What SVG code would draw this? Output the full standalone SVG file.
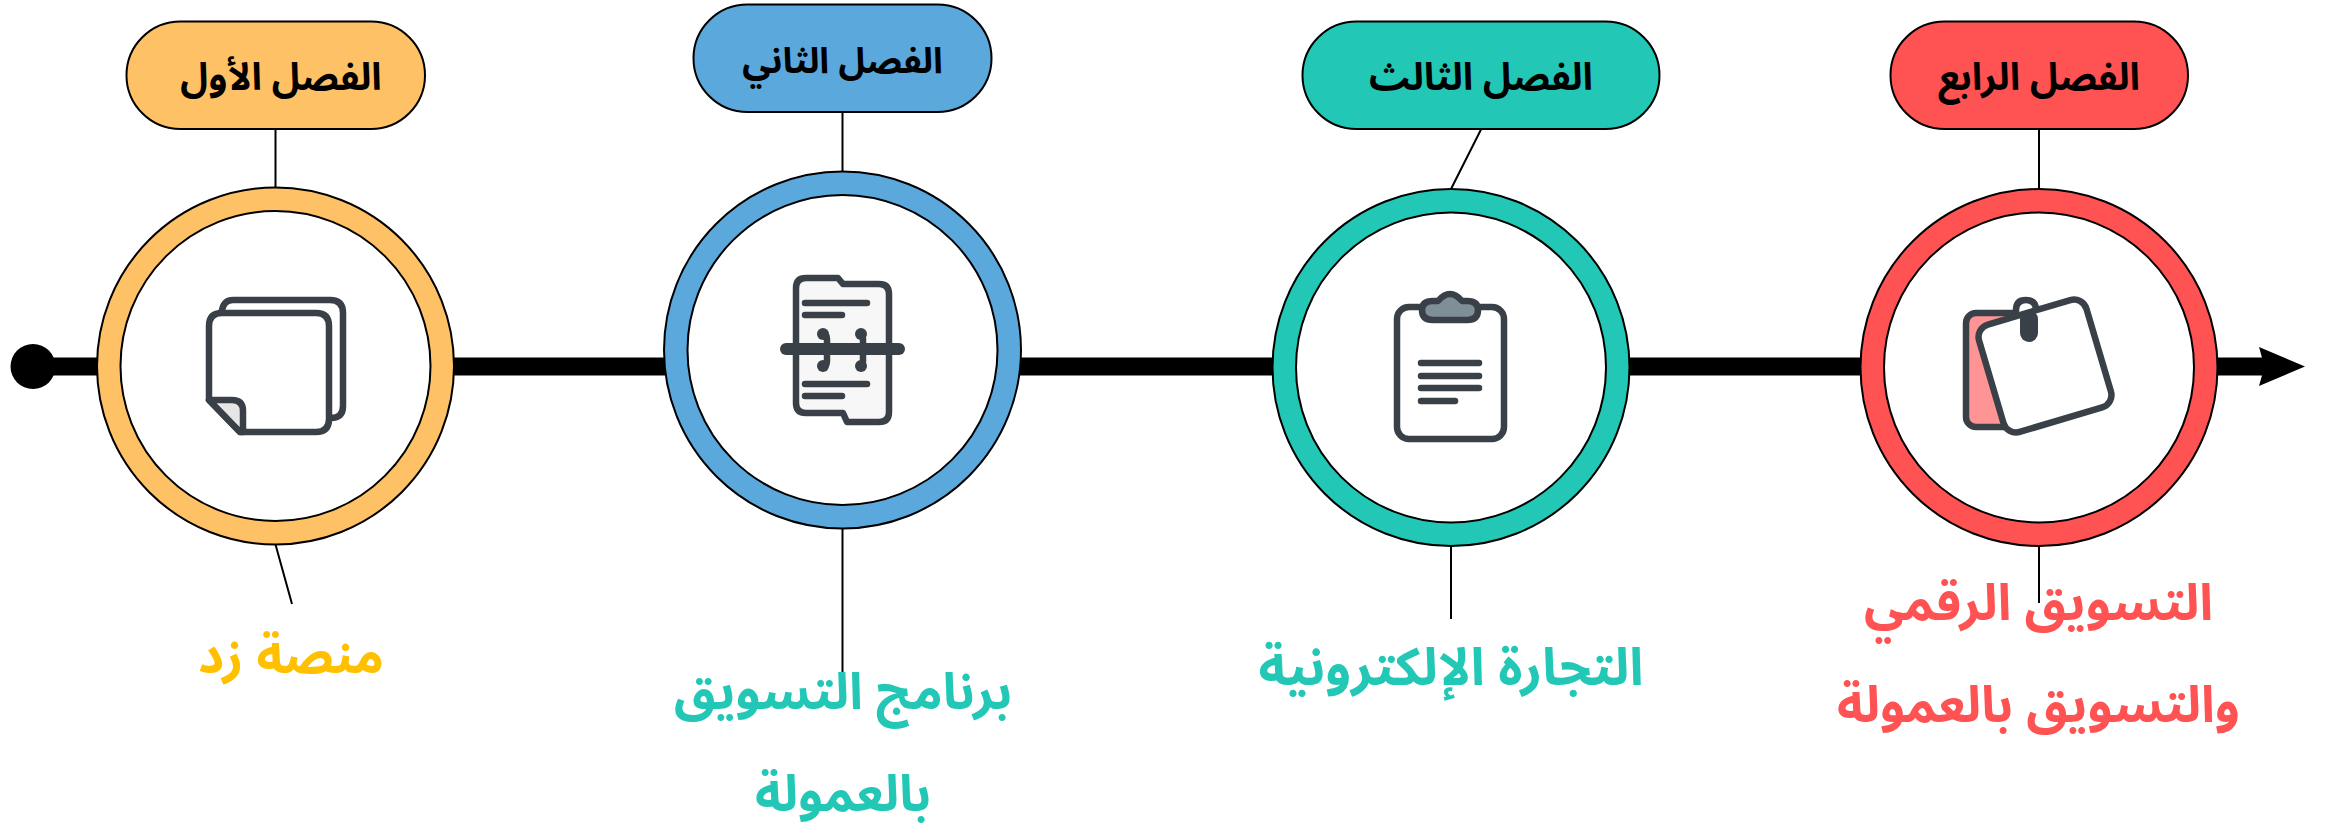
<svg xmlns="http://www.w3.org/2000/svg" width="2333" height="831" viewBox="0 0 2333 831">
<style>
text{font-family:"Noto Sans Arabic","Noto Sans",sans-serif;font-weight:700;text-anchor:middle;direction:rtl}
.t{font-size:38px;fill:#000}
.l{font-size:50.500px}
.c{fill:none;stroke:#000;stroke-width:2}
.o{stroke:#000;stroke-width:2}
.i{fill:#fff;stroke:#000;stroke-width:2}
.k{stroke:#3A4047;stroke-width:6.500;stroke-linecap:round;stroke-linejoin:round;fill:none}
</style>
<rect width="2333" height="831" fill="#fff"/>
<g id="connectors">
<line x1="33" y1="366.500" x2="2266" y2="366.500" stroke="#000" stroke-width="18"/>
<circle cx="33" cy="366.500" r="22.500" fill="#000"/>
<path d="M2305 366.500L2259 347L2264.500 366.500L2259 386Z" fill="#000"/>
<path class="c" d="M275.500 129V188M275.500 544.500L292 604M842.500 111.500V171.500M842.500 528.500V691M1481 129.500L1451 189M1451 546V619M2039 129V189M2039 546V603"/>
</g>
<g id="node1">
<rect class="o" x="126.500" y="21.500" width="298.500" height="107.500" rx="54" fill="#FFC166"/>
<text class="t" x="281" y="90">الفصل الأول</text>
<circle class="o" cx="275.500" cy="366" r="178.500" fill="#FFC166"/>
<circle class="i" cx="275.500" cy="366" r="155"/>
<path class="k" d="M222 310Q224 300 233 300H330Q343 300 343 313V406Q343 418 331 418"/>
<path class="k" d="M222 313H316Q329 313 329 326V419Q329 432 316 432H240L209 400V326Q209 313 222 313Z" style="fill:#fff"/>
<path class="k" d="M209 400H232Q243 400 243 411V432L240 432Z" style="fill:#E6E6E6"/>
<text class="l" x="291" y="673" fill="#FFC000">منصة زد</text>
</g>
<g id="node2">
<rect class="o" x="693.500" y="4.500" width="298" height="107.500" rx="54" fill="#5BA8DC"/>
<text class="t" x="842.500" y="73" style="font-size:36px">الفصل الثاني</text>
<circle class="o" cx="842.500" cy="350" r="178.500" fill="#5BA8DC"/>
<circle class="i" cx="842.500" cy="350" r="155"/>
<path class="k" d="M806 278H838L843 284H879Q889 284 889 294V412Q889 422 879 422H847L843 413H806Q796 413 796 403V288Q796 278 806 278Z" style="fill:#F7F7F7"/>
<path class="k" d="M805 303H867M805 315H842M805 384H867M805 396H842"/>
<path d="M786 349H899" class="k" style="stroke-width:12"/>
<path class="k" d="M823 334Q827 334 827 339V361Q827 366 823 366M861 334Q863 334 863 339V361Q863 366 861 366"/>
<circle cx="823" cy="334" r="6" fill="#3A4047"/><circle cx="823" cy="366" r="6" fill="#3A4047"/><circle cx="861" cy="334" r="6" fill="#3A4047"/><circle cx="861" cy="366" r="6" fill="#3A4047"/>
<text class="l" x="843" y="709" fill="#22C8B5">برنامج التسويق</text>
<text class="l" x="843" y="811" fill="#22C8B5">بالعمولة</text>
</g>
<g id="node3">
<rect class="o" x="1302.500" y="21.500" width="357" height="107.500" rx="54" fill="#22C8B5"/>
<text class="t" x="1481" y="90">الفصل الثالث</text>
<circle class="o" cx="1451" cy="367.500" r="178.500" fill="#22C8B5"/>
<circle class="i" cx="1451" cy="367.500" r="155"/>
<rect class="k" x="1397" y="307" width="107" height="132" rx="12" style="fill:#fff"/>
<path class="k" d="M1433 301H1438Q1444 294 1450 294Q1456 294 1462 301H1467Q1478 301 1478 310Q1478 320 1467 320H1433Q1422 320 1422 310Q1422 301 1433 301Z" style="fill:#7E8F98"/>
<path class="k" d="M1421 363H1479M1421 376H1479M1421 388H1479M1421 401H1455"/>
<text class="l" x="1451" y="685" fill="#22C8B5" style="font-size:52px">التجارة الإلكترونية</text>
</g>
<g id="node4">
<rect class="o" x="1890.500" y="21.500" width="297.500" height="107.500" rx="54" fill="#FF5252"/>
<text class="t" x="2039" y="90">الفصل الرابع</text>
<circle class="o" cx="2039" cy="367.500" r="178.500" fill="#FF5252"/>
<circle class="i" cx="2039" cy="367.500" r="155"/>
<rect class="k" x="1966" y="313" width="70" height="114" rx="10" style="fill:#FF9494"/>
<path class="k" d="M2016 330V310Q2016 300 2026 300Q2036 300 2036 310V330" style="fill:#fff"/>
<rect class="k" x="1989" y="310" width="112" height="112" rx="13" transform="rotate(-16.500 2045 366)" style="fill:#fff"/>
<rect x="2020" y="310" width="18" height="32" rx="9" fill="#3A4047"/>
<text class="l" x="2038.500" y="620" fill="#FF5252">التسويق الرقمي</text>
<text class="l" x="2038.500" y="722" fill="#FF5252">والتسويق بالعمولة</text>
</g>
</svg>
